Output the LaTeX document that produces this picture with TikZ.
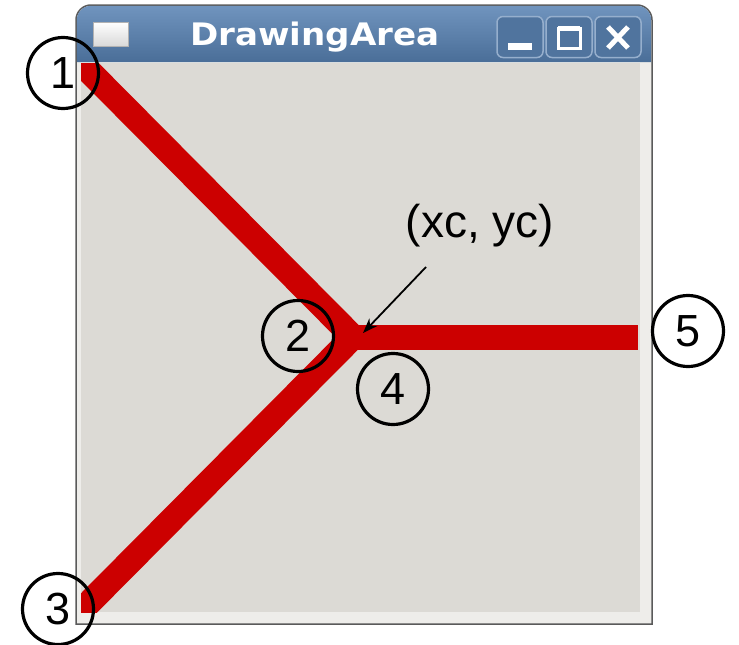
\documentclass[tikz,border=0pt]{standalone}
\usepackage{fontspec}
\setmainfont{Liberation Sans}
\newfontfamily\titlefont{DejaVu Sans Bold}
\usetikzlibrary{arrows.meta}
\definecolor{winbg}{RGB}{220,218,213}
\definecolor{winedge}{RGB}{238,237,234}
\definecolor{frameline}{RGB}{90,90,90}
\definecolor{tbtop}{RGB}{112,148,190}
\definecolor{tbbot}{RGB}{74,110,152}
\definecolor{btnedge}{RGB}{150,175,205}
\definecolor{cairored}{RGB}{204,0,0}
\tikzset{
  lbl/.style={circle,draw=black,line width=3.2pt,minimum size=71pt,inner sep=0pt,font=\fontsize{45}{45}\selectfont},
  redstroke/.style={draw=cairored,line width=25pt,line join=miter,line cap=butt},
  tbbtn/.style={draw=btnedge,line width=1.5pt,rounded corners=6pt,fill=tbbot!85!tbtop},
  pointer/.style={draw=black,line width=1.8pt,-{Stealth[length=15pt,width=11pt]}},
}
\begin{document}
\begin{tikzpicture}[x=1pt,y=-1pt]
\useasboundingbox (0,0) rectangle (739,645);
% window frame
\draw[frameline,line width=1.5pt,fill=winedge] (76,624) -- (76,20) arc[start angle=180,end angle=270,radius=15] -- (637,5) arc[start angle=270,end angle=360,radius=15] -- (652,624) -- cycle;
% title bar
\shade[top color=tbtop,bottom color=tbbot] (76.8,62) -- (76.8,20) arc[start angle=180,end angle=270,radius=14.2] -- (637,5.8) arc[start angle=270,end angle=360,radius=14.2] -- (651.2,62) -- cycle;
% client area
\fill[winbg] (81,63) rectangle (640,612);
% window icon
\shade[top color=white,bottom color=gray!30,draw=gray!60,line width=1pt] (93,22) rectangle (128,46);
% title text
\node[text=white,font=\titlefont\fontsize{31}{31}\selectfont] (ttl) at (315,37) {\scalebox{1.1}[1]{DrawingArea}};
% buttons
\node[tbbtn,minimum width=46pt,minimum height=41pt] (bmin) at (520,37) {};
\node[tbbtn,minimum width=46pt,minimum height=41pt] (bmax) at (569,37) {};
\node[tbbtn,minimum width=46pt,minimum height=41pt] (bclose) at (618,37) {};
\fill[white] (508,43) rectangle (532,50);
\draw[white,line width=3pt] (558,28) rectangle (580,48);
\fill[white] (558,26) rectangle (580,31);
\draw[white,line width=5pt] (608,27) -- (628,48) (628,27) -- (608,48);
% red strokes
\coordinate (p1) at (80,62);
\coordinate (c) at (353,337);
\coordinate (p3) at (80,612);
\coordinate (p5) at (638,337);
\begin{scope}
\clip (81,63) rectangle (640,612);
\draw[redstroke] (p1) -- (c) -- (p3);
\draw[redstroke] (c) -- (p5);
\end{scope}
% labels
\node[lbl] (n1) at (63,73) {1};
\node[lbl] (n2) at (298,336) {2};
\node[lbl] (n3) at (58,609) {3};
\node[lbl] (n4) at (393,389) {4};
\node[lbl] (n5) at (688,331) {5};
% annotation
\node[font=\fontsize{46}{46}\selectfont] (xcyc) at (480,226) {(xc, yc)};
\coordinate (atail) at (426,267);
\coordinate (ahead) at (363,333);
\draw[pointer] (atail) -- (ahead);
\end{tikzpicture}
\end{document}
